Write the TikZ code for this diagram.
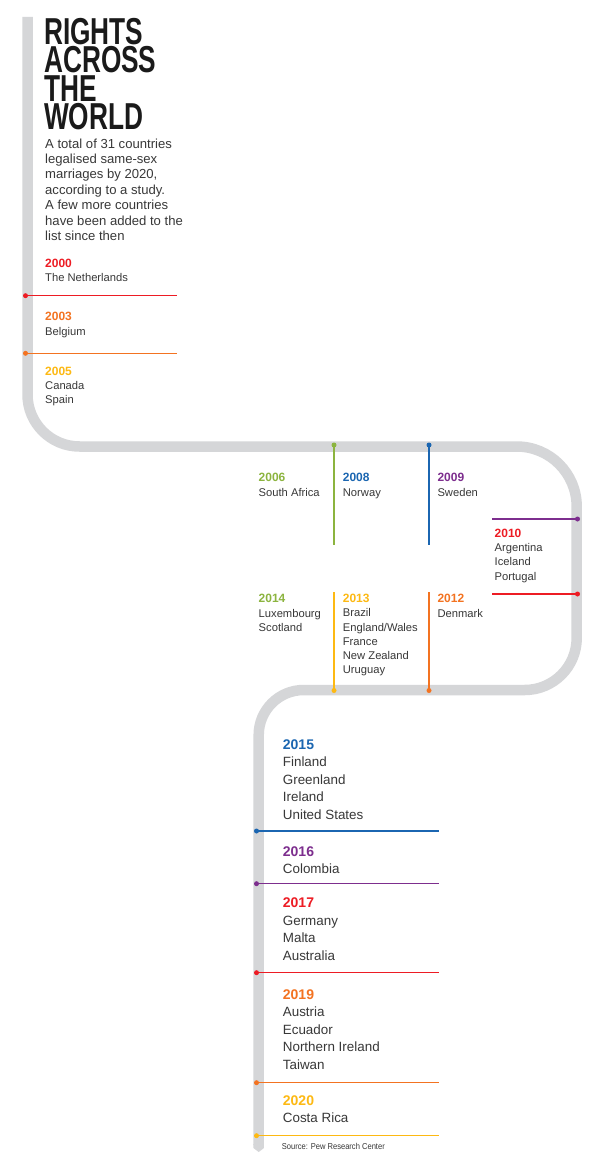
\documentclass[tikz,border=0pt]{standalone}
\usepackage{fontspec}
\setmainfont{Liberation Sans}
\newfontfamily\titlefont[FakeStretch=0.70]{Liberation Sans}
\newfontfamily\srcfont[FakeStretch=0.88]{Liberation Sans}
\definecolor{trackgray}{HTML}{D5D6D8}
\definecolor{txt}{HTML}{383838}
\definecolor{ttl}{HTML}{1A1A1A}
\definecolor{cred}{HTML}{ED1C24}
\definecolor{corange}{HTML}{F37321}
\definecolor{cyellow}{HTML}{FDB913}
\definecolor{cgreen}{HTML}{8CB43F}
\definecolor{cblue}{HTML}{1B66B1}
\definecolor{cpurple}{HTML}{7D2E8E}
\tikzset{
  track/.style={draw=trackgray, line width=10.5pt},
  base/.style={anchor=base west, inner sep=0pt},
  yrsm/.style={base, font=\fontsize{12}{14}\selectfont\bfseries},
  lblsm/.style={base, text=txt, font=\fontsize{11.2}{14}\selectfont},
  yrlg/.style={base, font=\fontsize{14}{17}\selectfont\bfseries},
  lbllg/.style={base, text=txt, font=\fontsize{13.4}{17}\selectfont},
  titlestyle/.style={anchor=north west, inner sep=0pt, align=left, text=ttl, font=\fontsize{37.5}{28.5}\titlefont\bfseries},
  bodyline/.style={base, text=txt, font=\fontsize{13.1}{15}\selectfont},
  dotc/.style={circle, inner sep=0pt, minimum size=5pt},
  yrline/.style={line width=1.3pt}
}
\newcommand\myentry[8]{%
  \node[yr#8, text=#4] (#1) at (#2,#3) {#5};
  \foreach \c [count=\i] in {#7} \node[lbl#8] (#1-\i) at (#2,#3+\i*#6) {\c};
}
\newcommand\myhrule[5]{% name, y, x1 (dot), x2, color
  \node[dotc, fill=#5] (#1d) at (#3,#2) {};
  \coordinate (#1e) at (#4,#2);
  \draw[yrline, #5] (#1d.center) -- (#1e);
}
\newcommand\myvrule[5]{% name, x, y1 (dot), y2, color
  \node[dotc, fill=#5] (#1d) at (#2,#3) {};
  \coordinate (#1e) at (#2,#4);
  \draw[yrline, #5] (#1d.center) -- (#1e);
}
\begin{document}
\begin{tikzpicture}[x=1pt,y=-1pt]
\useasboundingbox (0,0) rectangle (600,1164);
\fill[white] (0,0) rectangle (600,1164);
% track
\draw[track] (27.5,17) -- (27.5,394.5) arc[start angle=180,end angle=90,radius=52]
  -- (516.7,446.5) arc[start angle=270,end angle=360,radius=60]
  -- (576.7,638) arc[start angle=0,end angle=90,radius=52]
  -- (303.7,690) arc[start angle=270,end angle=180,radius=45]
  -- (258.7,1145);
\fill[trackgray] (253.45,1144) -- (253.45,1148) -- (258.7,1152) -- (263.95,1148) -- (263.95,1144) -- cycle;
% title
\node[titlestyle] (title) at (44,17.8) {RIGHTS\\ACROSS\\THE\\WORLD};
\foreach \l [count=\i] in {A total of 31 countries, legalised same-sex, {marriages by 2020,}, according to a study., A few more countries, have been added to the, list since then}
  \node[bodyline] (body\i) at (45,132.6+\i*15.4) {\l};
% left section
\myentry{n2000}{45}{267.3}{cred}{2000}{14.4}{The Netherlands}{sm}
\myentry{n2003}{45}{320.7}{corange}{2003}{14.4}{Belgium}{sm}
\myentry{n2005}{45}{375}{cyellow}{2005}{14.4}{Canada,Spain}{sm}
\myhrule{l2000}{295.7}{25.5}{176.5}{cred}
\myhrule{l2003}{353.3}{25.5}{176.5}{corange}
% middle section
\myentry{n2006}{258.5}{481.7}{cgreen}{2006}{14.4}{South Africa}{sm}
\myentry{n2008}{342.7}{481.7}{cblue}{2008}{14.4}{Norway}{sm}
\myentry{n2009}{437.3}{481.7}{cpurple}{2009}{14.4}{Sweden}{sm}
\myentry{n2010}{494.5}{537.3}{cred}{2010}{14.3}{Argentina,Iceland,Portugal}{sm}
\myentry{n2014}{258.5}{602.7}{cgreen}{2014}{14.3}{Luxembourg,Scotland}{sm}
\myentry{n2013}{342.7}{602.7}{cyellow}{2013}{14.2}{Brazil,England/Wales,France,New Zealand,Uruguay}{sm}
\myentry{n2012}{437.3}{602.7}{corange}{2012}{14.3}{Denmark}{sm}
\myvrule{l2006}{334}{445}{545}{cgreen}
\myvrule{l2008}{429}{445}{545}{cblue}
\myhrule{l2009}{519}{577.5}{492}{cpurple}
\myhrule{l2010}{594}{577.5}{492}{cred}
\myvrule{l2013}{334}{690.5}{591.7}{cyellow}
\myvrule{l2012}{429}{690.5}{591.7}{corange}
% lower section
\myentry{n2015}{282.7}{749.3}{cblue}{2015}{17.5}{Finland,Greenland,Ireland,United States}{lg}
\myentry{n2016}{282.7}{856}{cpurple}{2016}{17.4}{Colombia}{lg}
\myentry{n2017}{282.7}{907.7}{cred}{2017}{17.5}{Germany,Malta,Australia}{lg}
\myentry{n2019}{282.7}{999}{corange}{2019}{17.5}{Austria,Ecuador,Northern Ireland,Taiwan}{lg}
\myentry{n2020}{282.7}{1105}{cyellow}{2020}{17.6}{Costa Rica}{lg}
\myhrule{l2015}{831}{256.5}{439}{cblue}
\myhrule{l2016}{883.7}{256.5}{439}{cpurple}
\myhrule{l2017}{972.7}{256.5}{439}{cred}
\myhrule{l2019}{1082.7}{256.5}{439}{corange}
\myhrule{l2020}{1135.7}{256.5}{439}{cyellow}
\node[base, text=txt, font=\fontsize{8.6}{10}\srcfont] (src) at (281.7,1149.3) {Source: Pew Research Center};
\end{tikzpicture}
\end{document}
